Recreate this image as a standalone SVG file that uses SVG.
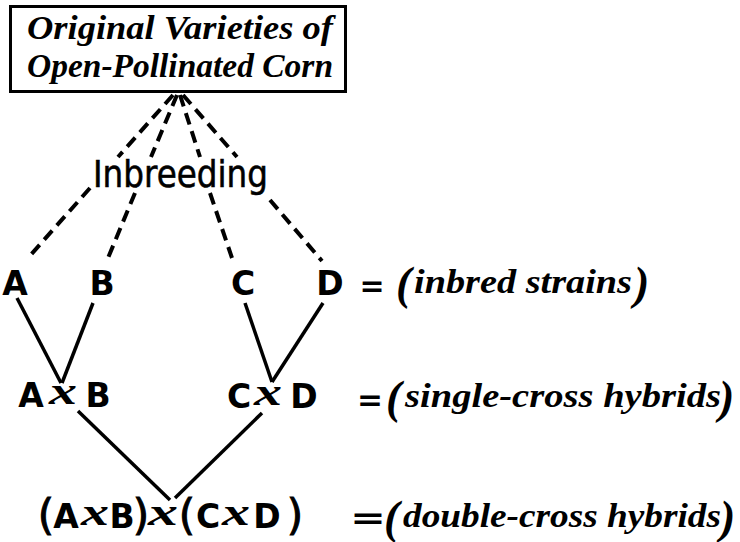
<svg xmlns="http://www.w3.org/2000/svg" width="740" height="542" viewBox="0 0 740 542">
<style>
.bg{fill:#fff}
.box{fill:none;stroke:#000;stroke-width:3}
.ttl{font-family:"Liberation Serif",serif;font-style:italic;font-weight:bold;font-size:34px;fill:#000}
.lbl{font-family:"Liberation Serif",serif;font-style:italic;font-weight:bold;font-size:34px;fill:#000}
.par{font-family:"Liberation Serif",serif;font-style:italic;font-weight:bold;font-size:46px;fill:#000}
.inb{font-family:"DejaVu Sans",sans-serif;font-size:38px;fill:#000;stroke:#000;stroke-width:0.6}
.let{font-family:"DejaVu Sans",sans-serif;font-weight:bold;font-size:33px;fill:#000}
.crs{font-family:"Liberation Serif",serif;font-style:italic;font-weight:bold;font-size:38px;fill:#000}
.bpar{font-family:"DejaVu Sans",sans-serif;font-size:42px;fill:#000;stroke:#000;stroke-width:1}
.eq{font-family:"DejaVu Sans",sans-serif;font-weight:bold;font-size:30px;fill:#000}
.dash{stroke:#000;stroke-width:4;stroke-dasharray:12 7;fill:none}
.solid{stroke:#000;stroke-width:3.5;fill:none}
</style>
<rect class="bg" x="0" y="0" width="740" height="542"/>
<g id="connectors">
<line class="dash" x1="173" y1="95" x2="118" y2="157"/>
<line class="dash" x1="90" y1="188" x2="28" y2="258"/>
<line class="dash" x1="177" y1="95" x2="151" y2="157"/>
<line class="dash" x1="135" y1="193" x2="108" y2="258"/>
<line class="dash" x1="180" y1="95" x2="200" y2="157"/>
<line class="dash" x1="210" y1="193" x2="232" y2="258"/>
<line class="dash" x1="183" y1="95" x2="237" y2="157"/>
<line class="dash" x1="270" y1="200" x2="322" y2="261"/>
<line class="solid" x1="17" y1="298" x2="61" y2="383"/>
<line class="solid" x1="93" y1="303" x2="62" y2="383"/>
<line class="solid" x1="245" y1="303" x2="272" y2="382"/>
<line class="solid" x1="323" y1="303" x2="272" y2="382"/>
<line class="solid" x1="78" y1="411" x2="170" y2="500"/>
<line class="solid" x1="262" y1="413" x2="175" y2="498"/>
</g>
<g id="title">
<rect class="box" x="10.5" y="6.5" width="335" height="85"/>
<text class="ttl" x="27" y="39" textLength="306" lengthAdjust="spacingAndGlyphs">Original Varieties of</text>
<text class="ttl" x="27" y="77" textLength="306" lengthAdjust="spacingAndGlyphs">Open-Pollinated Corn</text>
</g>
<g id="inbreeding">
<text class="inb" x="93" y="187" textLength="175" lengthAdjust="spacingAndGlyphs">Inbreeding</text>
</g>
<g id="A"><text class="let" x="15" y="295" text-anchor="middle">A</text></g>
<g id="B"><text class="let" x="102" y="295" text-anchor="middle">B</text></g>
<g id="C"><text class="let" x="243" y="295" text-anchor="middle">C</text></g>
<g id="D"><text class="let" x="330" y="295" text-anchor="middle">D</text></g>
<g id="inbred-label">
<text class="eq" x="372" y="296" text-anchor="middle">=</text>
<text class="par" x="396" y="299">(</text>
<text class="lbl" x="414" y="293" textLength="218" lengthAdjust="spacingAndGlyphs">inbred strains</text>
<text class="par" x="634" y="299">)</text>
</g>
<g id="AxB">
<text class="let" x="31" y="407" text-anchor="middle">A</text>
<text class="crs" x="49" y="404" textLength="28" lengthAdjust="spacingAndGlyphs">x</text>
<text class="let" x="98" y="407" text-anchor="middle">B</text>
</g>
<g id="CxD">
<text class="let" x="239" y="408" text-anchor="middle">C</text>
<text class="crs" x="254" y="405" textLength="28" lengthAdjust="spacingAndGlyphs">x</text>
<text class="let" x="304" y="408" text-anchor="middle">D</text>
</g>
<g id="single-label">
<text class="eq" x="370" y="410" text-anchor="middle" textLength="26" lengthAdjust="spacingAndGlyphs">=</text>
<text class="par" x="386" y="413">(</text>
<text class="lbl" x="405" y="407" textLength="316" lengthAdjust="spacingAndGlyphs">single-cross hybrids</text>
<text class="par" x="719" y="413">)</text>
</g>
<g id="AxB-x-CxD">
<text class="bpar" x="46" y="530" text-anchor="middle">(</text>
<text class="let" x="66" y="528" text-anchor="middle">A</text>
<text class="crs" x="81" y="525" textLength="28" lengthAdjust="spacingAndGlyphs">x</text>
<text class="let" x="122" y="528" text-anchor="middle">B</text>
<text class="bpar" x="141" y="530" text-anchor="middle">)</text>
<text class="crs" x="148" y="525" textLength="30" lengthAdjust="spacingAndGlyphs">x</text>
<text class="bpar" x="187" y="530" text-anchor="middle">(</text>
<text class="let" x="208" y="528" text-anchor="middle">C</text>
<text class="crs" x="222" y="525" textLength="28" lengthAdjust="spacingAndGlyphs">x</text>
<text class="let" x="267" y="528" text-anchor="middle">D</text>
<text class="bpar" x="295" y="530" text-anchor="middle">)</text>
</g>
<g id="double-label">
<text class="eq" x="368" y="528" text-anchor="middle" textLength="36" lengthAdjust="spacingAndGlyphs">=</text>
<text class="par" x="384" y="533">(</text>
<text class="lbl" x="403" y="527" textLength="318" lengthAdjust="spacingAndGlyphs">double-cross hybrids</text>
<text class="par" x="720" y="533">)</text>
</g>
</svg>
